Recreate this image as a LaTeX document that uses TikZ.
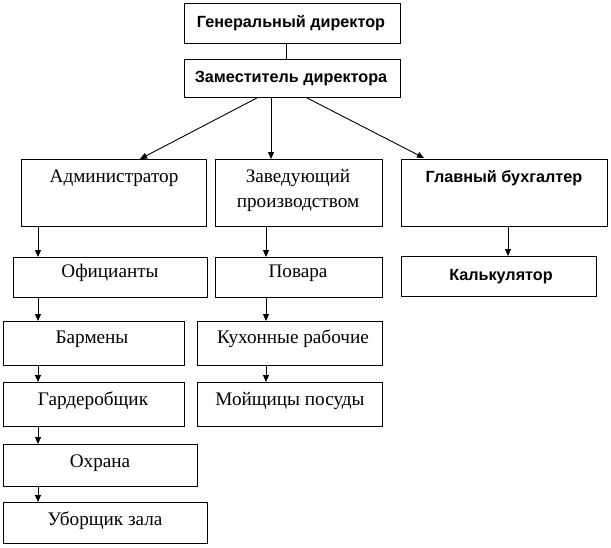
\documentclass[tikz,border=0pt]{standalone}
\usepackage{fontspec}
\setmainfont{Liberation Serif}
\newfontfamily\sansf{Liberation Sans}
\usetikzlibrary{arrows.meta}
\begin{document}
\begin{tikzpicture}[x=1pt,y=-1pt,
 box/.style={draw, line width=0.9pt, anchor=north west, inner sep=0pt},
 st/.style={anchor=base, font=\fontsize{19.2}{21}\selectfont, inner sep=0pt},
 ss/.style={anchor=base, font=\sansf\bfseries\fontsize{16.2}{18}\selectfont, inner sep=0pt},
 arr/.style={line width=0.9pt, -{Triangle[length=7pt,width=6pt]}},
 ln/.style={line width=0.9pt}]
\useasboundingbox[fill=white] (0,0) rectangle (611,547);

% boxes
\node[box, minimum width=216pt, minimum height=40pt] (gen) at (184,3) {};
\node[box, minimum width=216pt, minimum height=38pt] (zam) at (184,59) {};
\node[box, minimum width=185pt, minimum height=67pt] (adm) at (21,159) {};
\node[box, minimum width=167pt, minimum height=67pt] (zav) at (215,159) {};
\node[box, minimum width=206pt, minimum height=67pt] (gl) at (401,159) {};
\node[box, minimum width=194pt, minimum height=40pt] (ofi) at (13,257) {};
\node[box, minimum width=167pt, minimum height=40pt] (pov) at (215,257) {};
\node[box, minimum width=195pt, minimum height=40pt] (kal) at (401,256) {};
\node[box, minimum width=181pt, minimum height=44pt] (bar) at (3,321) {};
\node[box, minimum width=185pt, minimum height=44pt] (kux) at (197,321) {};
\node[box, minimum width=181pt, minimum height=44pt] (gar) at (3,382) {};
\node[box, minimum width=185pt, minimum height=44pt] (moj) at (197,382) {};
\node[box, minimum width=194pt, minimum height=42pt] (oxr) at (3,444) {};
\node[box, minimum width=204pt, minimum height=41pt] (ubo) at (3,502) {};

% texts
\node[ss] (genT) at (291,27) {Генеральный директор};
\node[ss] (zamT) at (291,82) {Заместитель директора};
\node[st] (admT) at (114,182) {Администратор};
\node[st] (zavT1) at (298,182) {Заведующий};
\node[st] (zavT2) at (298,207) {производством};
\node[ss] (glT) at (504,182) {Главный бухгалтер};
\node[st] (ofiT) at (110,277) {Официанты};
\node[st] (povT) at (298,277) {Повара};
\node[ss] (kalT) at (501,280) {Калькулятор};
\node[st] (barT) at (92,343) {Бармены};
\node[st] (kuxT) at (293,343) {Кухонные рабочие};
\node[st] (garT) at (93,405) {Гардеробщик};
\node[st] (mojT) at (290,405) {Мойщицы посуды};
\node[st] (oxrT) at (100,467) {Охрана};
\node[st] (uboT) at (105,525) {Уборщик зала};

% connectors
\draw[ln] ([xshift=102pt]gen.south west) -- ([xshift=102pt]zam.north west);
\draw[arr] ([xshift=73pt]zam.south west) -- ([xshift=119pt]adm.north west);
\draw[arr] ([xshift=87pt]zam.south west) -- ([xshift=56pt]zav.north west);
\draw[arr] ([xshift=123pt]zam.south west) -- ([xshift=23pt,yshift=1pt]gl.north west);
\draw[arr] ([xshift=17pt]adm.south west) -- ([xshift=25pt]ofi.north west);
\draw[arr] ([xshift=51pt]zav.south west) -- ([xshift=51pt]pov.north west);
\draw[arr] ([xshift=107pt]gl.south west) -- ([xshift=107pt]kal.north west);
\draw[arr] ([xshift=25pt]ofi.south west) -- ([xshift=35pt]bar.north west);
\draw[arr] ([xshift=51pt]pov.south west) -- ([xshift=69pt]kux.north west);
\draw[arr] ([xshift=35pt]bar.south west) -- ([xshift=35pt]gar.north west);
\draw[arr] ([xshift=69pt]kux.south west) -- ([xshift=69pt]moj.north west);
\draw[arr] ([xshift=35pt]gar.south west) -- ([xshift=35pt]oxr.north west);
\draw[arr] ([xshift=35pt]oxr.south west) -- ([xshift=35pt]ubo.north west);
\end{tikzpicture}
\end{document}
